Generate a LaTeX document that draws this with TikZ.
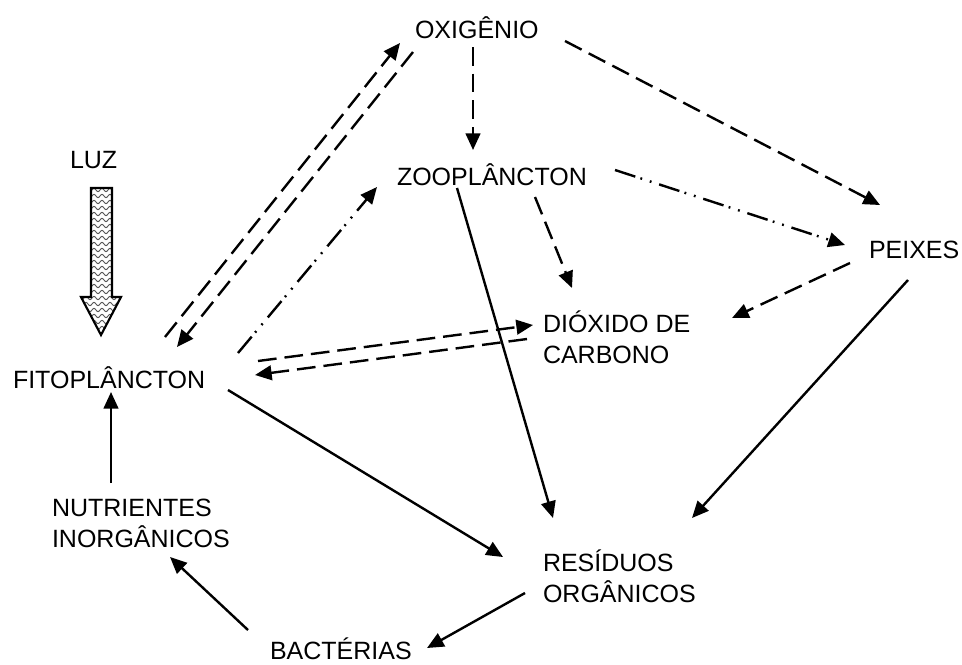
\documentclass[tikz,border=0pt]{standalone}
\usepackage{fontspec}
\setmainfont{Liberation Sans}
\usetikzlibrary{arrows.meta}
\begin{document}
\begin{tikzpicture}[x=0.75pt,y=-0.75pt,
  lbl/.style={inner sep=0pt, outer sep=0pt, anchor=base west, align=left,
    font=\fontsize{18.75}{23.25}\selectfont},
  conn/.style={line width=1.8pt, -{Triangle[length=12.5pt,width=11pt]}},
  dsh/.style={conn, dash pattern=on 14pt off 6pt},
  ddot/.style={conn, dash pattern=on 16pt off 4pt on 1.4pt off 6pt on 1.4pt off 6pt},
]
\useasboundingbox (0,0) rectangle (962,664);
% nodes (multi-line nodes are anchored at the baseline of their last line)
\node[lbl] (oxi)  at (415,38)  {OXIGÊNIO};
\node[lbl] (zoo)  at (397,185) {ZOOPLÂNCTON};
\node[lbl] (luz)  at (70,168)  {LUZ};
\node[lbl] (pei)  at (869,258) {PEIXES};
\node[lbl] (fito) at (13,388)  {FITOPLÂNCTON};
\node[lbl] (dio)  at (543,363) {DIÓXIDO DE\\CARBONO};
\node[lbl] (nut)  at (52,547)  {NUTRIENTES\\INORGÂNICOS};
\node[lbl] (res)  at (543,602) {RESÍDUOS\\ORGÂNICOS};
\node[lbl] (bac)  at (270,659) {BACTÉRIAS};
% LUZ arrow
\begin{scope}
  \clip (91,188) -- (112,188) -- (112,297) -- (121,297) -- (101,335) -- (81,297) -- (91,297) -- cycle;
  \foreach \yy in {190,196,...,334}{
    \draw[black!65, line width=0.7pt, domain=78:124, samples=70, smooth]
      plot (\x, {\yy + 1.6*sin(\x*45)});
  }
\end{scope}
\draw[line width=1.6pt, line join=miter] (91,188) -- (112,188) -- (112,297) -- (121,297) -- (101,335) -- (81,297) -- (91,297) -- cycle;
% connectors
\draw[dsh]  ([shift={(58,9)}]oxi.base west)    -- ([shift={(76,-35)}]zoo.base west);
\draw[dsh]  ([shift={(150,3)}]oxi.base west)   -- ([shift={(11,-53)}]pei.base west);
\draw[dsh]  ([shift={(152,-51)}]fito.base west) -- ([shift={(-15,5)}]oxi.base west);
\draw[dsh]  ([shift={(-2,14)}]oxi.base west)   -- ([shift={(164,-41)}]fito.base west);
\draw[ddot] ([shift={(225,-35)}]fito.base west) -- ([shift={(-20,2)}]zoo.base west);
\draw[dsh]  ([shift={(245,-27)}]fito.base west) -- ([shift={(-10,-38)}]dio.base west);
\draw[dsh]  ([shift={(-16,-24)}]dio.base west) -- ([shift={(242,-13)}]fito.base west);
\draw[ddot] ([shift={(218,-15)}]zoo.base west) -- ([shift={(-24,-13)}]pei.base west);
\draw[dsh]  ([shift={(138,12)}]zoo.base west)  -- ([shift={(29,-75)}]dio.base west);
\draw[dsh]  ([shift={(-19,5)}]pei.base west)   -- ([shift={(189,-45)}]dio.base west);
\draw[conn] ([shift={(60,3)}]zoo.base west)    -- ([shift={(10,-84)}]res.base west);
\draw[conn] ([shift={(39,22)}]pei.base west)   -- ([shift={(149,-84)}]res.base west);
\draw[conn] ([shift={(215,2)}]fito.base west)  -- ([shift={(-40,-45)}]res.base west);
\draw[conn] ([shift={(-18,-9)}]res.base west)  -- ([shift={(157,-11)}]bac.base west);
\draw[conn] ([shift={(-22,-29)}]bac.base west) -- ([shift={(118,10)}]nut.base west);
\draw[conn] ([shift={(59,-64)}]nut.base west)  -- ([shift={(98,4)}]fito.base west);
\end{tikzpicture}
\end{document}
